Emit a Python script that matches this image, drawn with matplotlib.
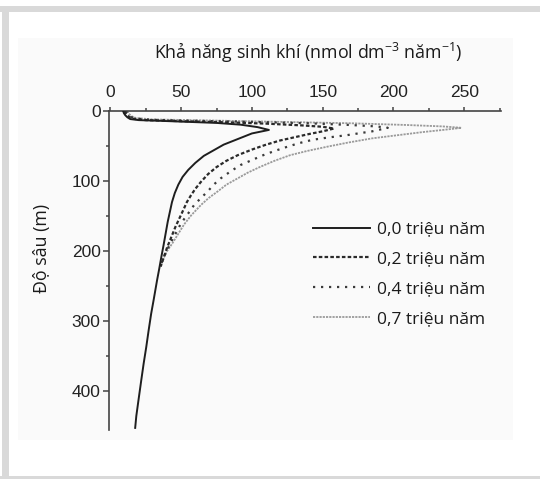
import matplotlib
matplotlib.use("Agg")
import matplotlib.pyplot as plt
from matplotlib.patches import Rectangle

# Gas generation potential profiles (value in nmol dm-3 yr-1 vs depth in m)
depth_00 = [0, 3, 6, 9, 11.5, 13, 14, 15.5, 17, 19.5, 23, 27, 32, 40, 48, 56, 64, 74, 84, 94,
            105, 117, 130, 144, 158, 175, 192, 208, 225, 241, 270, 289, 313, 337, 360, 384, 410, 435, 452]
value_00 = [9, 9.5, 10.5, 12, 14, 20, 35, 55, 75, 92, 104, 112, 100, 90, 80, 73, 66, 60, 55, 51,
            48, 45.5, 43.5, 42, 40.5, 39, 37.5, 36, 34.5, 33, 30.5, 28.8, 27, 25.3, 23.5, 21.8, 20, 18.3, 17.5]

depth_02 = [0, 4, 8, 11, 13, 14.5, 16, 18, 20.5, 22.5, 25, 29, 33, 37.5, 42, 48, 55, 63, 71, 80,
            90, 101, 111, 120, 130, 139, 152, 165, 180, 195, 210, 222]
value_02 = [10, 11, 13, 16, 25, 50, 80, 110, 135, 150, 158, 150, 140, 130, 120, 110, 100, 90, 82, 75,
            69, 64, 60, 57, 54, 52, 49, 46, 43, 40, 37.5, 35.5]

depth_04 = [0, 4, 8, 10.5, 12.5, 14, 15.5, 17.5, 20, 22, 24, 29, 32, 34.5, 37.5, 41, 46, 51, 57, 63,
            70, 77, 86, 96, 105, 115, 124, 134, 146, 160, 175, 190, 205, 220]
value_04 = [11, 12, 14, 17, 28, 60, 100, 140, 170, 188, 196, 185, 175, 167, 155, 143, 133, 125, 116, 108,
            100, 92, 85, 78, 73, 68.6, 64, 59.2, 55, 50, 46, 42, 38.5, 35.5]

depth_07 = [0, 4, 7.5, 10, 12, 13.5, 15.5, 17.5, 20, 22, 24, 27, 30, 34, 39, 45, 51, 57, 63, 71,
            79.5, 88, 96, 105, 115, 124, 134, 149, 162, 175, 188, 200, 210, 220]
value_07 = [12, 13, 15, 18, 30, 70, 120, 170, 210, 235, 248, 235, 221, 205, 185, 168, 153, 139, 127, 116,
            106, 97, 90, 82, 75.6, 69.5, 64, 57, 52, 48, 44, 40, 37.5, 35.5]

series_labels = ["0,0 triệu năm", "0,2 triệu năm", "0,4 triệu năm", "0,7 triệu năm"]
x_ticks = [0, 50, 100, 150, 200, 250]
y_ticks = [0, 100, 200, 300, 400]

title_text = r"Khả năng sinh khí (nmol dm$^{\mathregular{-3}}$ năm$^{\mathregular{-1}}$)"
ylabel_text = "Độ sâu (m)"

plt.rcParams["mathtext.fontset"] = "custom"
plt.rcParams["mathtext.rm"] = "Open Sans"
plt.rcParams["mathtext.it"] = "Open Sans"

W, H = 540, 479
fig = plt.figure(figsize=(W / 100, H / 100), dpi=100, facecolor="white")


def px_rect(x0, y0, x1, y1, color, z=0):
    fig.add_artist(Rectangle((x0 / W, 1 - y1 / H), (x1 - x0) / W, (y1 - y0) / H,
                             transform=fig.transFigure, facecolor=color,
                             edgecolor="none", zorder=z))


# page frame and panel
px_rect(0, 6.5, W, 11.5, "#d9d9d9")
px_rect(2, 6.5, 9, 479, "#d9d9d9")
px_rect(0, 476, W, 479, "#d9d9d9")
px_rect(18, 37.5, 513, 440, "#fafafa")

ax_left, ax_right, ax_top, ax_bottom = 109, 501, 111, 430
ax = fig.add_axes([ax_left / W, 1 - ax_bottom / H,
                   (ax_right - ax_left) / W, (ax_bottom - ax_top) / H])
ax.set_facecolor("none")

ax.plot(value_07, depth_07, color="#9a9a9a", lw=1.3, ls=(0, (1.2, 0.6)), label=series_labels[3], zorder=2)
ax.plot(value_04, depth_04, color="#3a3a3a", lw=1.6, ls=(0, (1.0, 2.6)), label=series_labels[2], zorder=3)
ax.plot(value_02, depth_02, color="#2a2a2a", lw=1.6, ls=(0, (1.6, 1.0)), label=series_labels[1], zorder=4)
ax.plot(value_00, depth_00, color="#1e1e1e", lw=1.4, ls="-", label=series_labels[0], zorder=5)

ax.set_xlim(-1, 276)
ax.set_ylim(455, 0)

for s in ["bottom", "right"]:
    ax.spines[s].set_visible(False)
for s in ["top", "left"]:
    ax.spines[s].set_color("#444444")
    ax.spines[s].set_linewidth(1.2)

ax.xaxis.tick_top()
ax.set_xticks(x_ticks)
ax.set_xticks([25, 75, 125, 175, 225, 275], minor=True)
ax.set_yticks(y_ticks)
ax.set_yticks([50, 150, 250, 350], minor=True)
ax.tick_params(axis="x", which="major", direction="out", length=3, width=1.1,
               color="#444444", pad=5, labelsize=12.5, labelcolor="#222222")
ax.tick_params(axis="x", which="minor", direction="out", length=2, width=1.1, color="#444444")
ax.tick_params(axis="y", which="major", direction="out", length=4, width=1.1,
               color="#444444", pad=2, labelsize=12.5, labelcolor="#222222")
ax.tick_params(axis="y", which="minor", direction="out", length=2.5, width=1.1, color="#444444")
for lab in ax.get_xticklabels() + ax.get_yticklabels():
    lab.set_fontfamily("Liberation Sans")

fig.text(308 / W, 1 - 53 / H, title_text, ha="center", va="center",
         fontsize=12.8, family="Open Sans", color="#1a1a1a")
fig.text(42 / W, 1 - 248 / H, ylabel_text, ha="center", va="center", rotation=90,
         fontsize=12.8, family="Open Sans", color="#1a1a1a")

handles, labels = ax.get_legend_handles_labels()
order = [3, 2, 1, 0]
leg = fig.legend([handles[i] for i in order], [labels[i] for i in order],
                 loc="upper left", bbox_to_anchor=(313 / W, 1 - 221.5 / H),
                 bbox_transform=fig.transFigure, frameon=False,
                 prop={"family": "Open Sans", "size": 12.5},
                 handlelength=3.3, handletextpad=0.4, labelspacing=0.78,
                 borderpad=0, borderaxespad=0)
for t in leg.get_texts():
    t.set_color("#1a1a1a")

fig.savefig("out.png", dpi=100, facecolor="white")
